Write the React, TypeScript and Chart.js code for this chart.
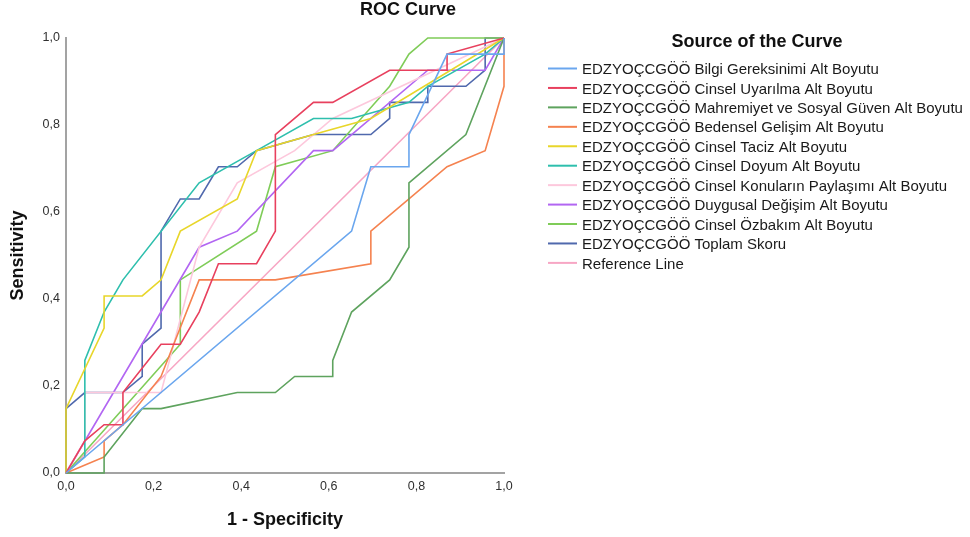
import React, { useEffect, useRef } from 'react';
import { Chart, registerables } from 'chart.js';

Chart.register(...registerables);

const chartTitle = 'ROC Curve';
const legendTitle = 'Source of the Curve';
const xTitle = '1 - Specificity';
const yTitle = 'Sensitivity';

const tickValues = [0, 0.2, 0.4, 0.6, 0.8, 1.0];
const tickLabels = ['0,0', '0,2', '0,4', '0,6', '0,8', '1,0'];

const seriesLabels = [
  'EDZYOÇCGÖÖ Bilgi Gereksinimi Alt Boyutu',
  'EDZYOÇCGÖÖ Cinsel Uyarılma Alt Boyutu',
  'EDZYOÇCGÖÖ Mahremiyet ve Sosyal Güven Alt Boyutu',
  'EDZYOÇCGÖÖ Bedensel Gelişim Alt Boyutu',
  'EDZYOÇCGÖÖ Cinsel Taciz Alt Boyutu',
  'EDZYOÇCGÖÖ Cinsel Doyum Alt Boyutu',
  'EDZYOÇCGÖÖ Cinsel Konuların Paylaşımı Alt Boyutu',
  'EDZYOÇCGÖÖ Duygusal Değişim Alt Boyutu',
  'EDZYOÇCGÖÖ Cinsel Özbakım Alt Boyutu',
  'EDZYOÇCGÖÖ Toplam Skoru',
  'Reference Line',
];

const seriesColors = [
  '#6aa6ee',
  '#e8405e',
  '#5ea35e',
  '#f5824f',
  '#e8d62a',
  '#2ebfad',
  '#fdc8dc',
  '#b266f2',
  '#7fcc58',
  '#5069ad',
  '#f7a6c4',
];

// 1 - Specificity (x) and Sensitivity (y) per curve
const bilgiX = [0, 0.652, 0.696, 0.783, 0.783, 0.870, 1, 1];
const bilgiY = [0, 0.556, 0.704, 0.704, 0.778, 0.963, 0.963, 1];

const uyarilmaX = [0, 0.043, 0.087, 0.130, 0.130, 0.217, 0.261, 0.304, 0.348, 0.435, 0.478, 0.478, 0.565, 0.609, 0.739, 0.870, 0.870, 1];
const uyarilmaY = [0, 0.074, 0.111, 0.111, 0.185, 0.296, 0.296, 0.370, 0.481, 0.481, 0.556, 0.778, 0.852, 0.852, 0.926, 0.926, 0.963, 1];

const mahremiyetX = [0, 0.087, 0.087, 0.174, 0.217, 0.391, 0.478, 0.522, 0.609, 0.609, 0.652, 0.739, 0.783, 0.783, 0.913, 1];
const mahremiyetY = [0, 0, 0.037, 0.148, 0.148, 0.185, 0.185, 0.222, 0.222, 0.259, 0.370, 0.444, 0.519, 0.667, 0.778, 1];

const bedenselX = [0, 0.087, 0.087, 0.130, 0.217, 0.304, 0.478, 0.696, 0.696, 0.870, 0.957, 1, 1];
const bedenselY = [0, 0.037, 0.074, 0.111, 0.222, 0.444, 0.444, 0.481, 0.556, 0.704, 0.741, 0.889, 1];

const tacizX = [0, 0, 0.087, 0.087, 0.174, 0.217, 0.261, 0.391, 0.435, 0.565, 0.696, 1];
const tacizY = [0, 0.148, 0.333, 0.407, 0.407, 0.444, 0.556, 0.630, 0.741, 0.778, 0.815, 1];

const doyumX = [0, 0.043, 0.043, 0.087, 0.130, 0.304, 0.435, 0.565, 0.652, 0.783, 0.826, 0.957, 1];
const doyumY = [0, 0.037, 0.259, 0.370, 0.444, 0.667, 0.741, 0.815, 0.815, 0.852, 0.889, 0.963, 1];

const paylasimX = [0, 0.043, 0.043, 0.217, 0.304, 0.391, 0.522, 0.609, 1];
const paylasimY = [0, 0.074, 0.185, 0.185, 0.519, 0.667, 0.741, 0.815, 1];

const duygusalX = [0, 0.304, 0.391, 0.565, 0.609, 0.826, 0.957, 1];
const duygusalY = [0, 0.519, 0.556, 0.741, 0.741, 0.926, 0.926, 1];

const ozbakimX = [0, 0.261, 0.261, 0.435, 0.478, 0.609, 0.739, 0.783, 0.826, 1];
const ozbakimY = [0, 0.296, 0.444, 0.556, 0.704, 0.741, 0.889, 0.963, 1, 1];

const toplamX = [0, 0, 0.043, 0.130, 0.174, 0.174, 0.217, 0.217, 0.261, 0.304, 0.348, 0.391, 0.435, 0.565, 0.696, 0.739, 0.739, 0.826, 0.826, 0.913, 0.957, 0.957, 1];
const toplamY = [0, 0.148, 0.185, 0.185, 0.222, 0.296, 0.333, 0.556, 0.630, 0.630, 0.704, 0.704, 0.741, 0.778, 0.778, 0.815, 0.852, 0.852, 0.889, 0.889, 0.926, 1, 1];

const referenceX = [0, 1];
const referenceY = [0, 1];

const allX = [bilgiX, uyarilmaX, mahremiyetX, bedenselX, tacizX, doyumX, paylasimX, duygusalX, ozbakimX, toplamX, referenceX];
const allY = [bilgiY, uyarilmaY, mahremiyetY, bedenselY, tacizY, doyumY, paylasimY, duygusalY, ozbakimY, toplamY, referenceY];

const FONT = 'Arial, "Liberation Sans", sans-serif';

const sideLegend = {
  id: 'sideLegend',
  afterDraw(chart: any) {
    const ctx = chart.ctx;
    ctx.save();
    ctx.fillStyle = '#111';
    ctx.textAlign = 'center';
    ctx.textBaseline = 'middle';
    ctx.font = 'bold 18px ' + FONT;
    ctx.fillText(chartTitle, 408, 10.5);
    ctx.fillText(legendTitle, 757, 42);
    ctx.font = '15px ' + FONT;
    ctx.textAlign = 'left';
    chart.data.datasets.forEach((ds: any, i: number) => {
      const y = 68.5 + i * 19.44;
      ctx.strokeStyle = ds.borderColor;
      ctx.lineWidth = 2;
      ctx.beginPath();
      ctx.moveTo(548, y);
      ctx.lineTo(577, y);
      ctx.stroke();
      ctx.fillStyle = '#1a1a1a';
      ctx.fillText(ds.label, 582, y + 1.5);
    });
    ctx.restore();
  },
};

export default function App() {
  const ref = useRef<HTMLCanvasElement | null>(null);

  useEffect(() => {
    if (!ref.current) return;
    const datasets = allX.map((xs, i) => ({
      label: seriesLabels[i],
      data: xs.map((x, j) => ({ x, y: allY[i][j] })),
      borderColor: seriesColors[i],
      backgroundColor: seriesColors[i],
      borderWidth: 1.6,
      showLine: true,
      pointRadius: 0,
      pointHoverRadius: 0,
      tension: 0,
      fill: false,
      clip: 4,
    }));

    const axisBorder = { display: true, color: '#a3a3a3', width: 2 };
    const tickFont = { family: FONT, size: 12.5 };
    const titleFont = { family: FONT, size: 18, weight: 'bold' as const };

    const chart = new Chart(ref.current, {
      type: 'scatter',
      data: { datasets },
      plugins: [sideLegend],
      options: {
        animation: false,
        responsive: true,
        maintainAspectRatio: false,
        layout: { padding: { top: 38, right: 466, bottom: 0, left: 0 } },
        plugins: {
          legend: { display: false },
          title: { display: false },
          tooltip: { enabled: false },
        },
        scales: {
          x: {
            type: 'linear',
            min: 0,
            max: 1,
            grid: { display: false, drawTicks: false },
            border: axisBorder,
            afterBuildTicks: (scale: any) => {
              scale.ticks = tickValues.map((v) => ({ value: v }));
            },
            afterFit: (scale: any) => {
              scale.height = 64;
            },
            ticks: {
              padding: 6,
              color: '#303030',
              font: tickFont,
              maxRotation: 0,
              callback: (_v: any, i: number) => tickLabels[i],
            },
            title: {
              display: true,
              text: xTitle,
              color: '#111',
              font: titleFont,
              padding: { top: 0, bottom: 6 },
            },
          },
          y: {
            type: 'linear',
            min: 0,
            max: 1,
            grid: { display: false, drawTicks: false },
            border: axisBorder,
            afterBuildTicks: (scale: any) => {
              scale.ticks = tickValues.map((v) => ({ value: v }));
            },
            afterFit: (scale: any) => {
              scale.width = 66;
            },
            ticks: {
              padding: 6,
              color: '#303030',
              font: tickFont,
              callback: (_v: any, i: number) => tickLabels[i],
            },
            title: {
              display: true,
              text: yTitle,
              color: '#111',
              font: titleFont,
              padding: { top: 7, bottom: 0 },
            },
          },
        },
      },
    });

    return () => chart.destroy();
  }, []);

  return (
    <div style={{ position: 'absolute', left: 0, top: 0, width: 970, height: 537, background: '#fff' }}>
      <canvas ref={ref} />
    </div>
  );
}
